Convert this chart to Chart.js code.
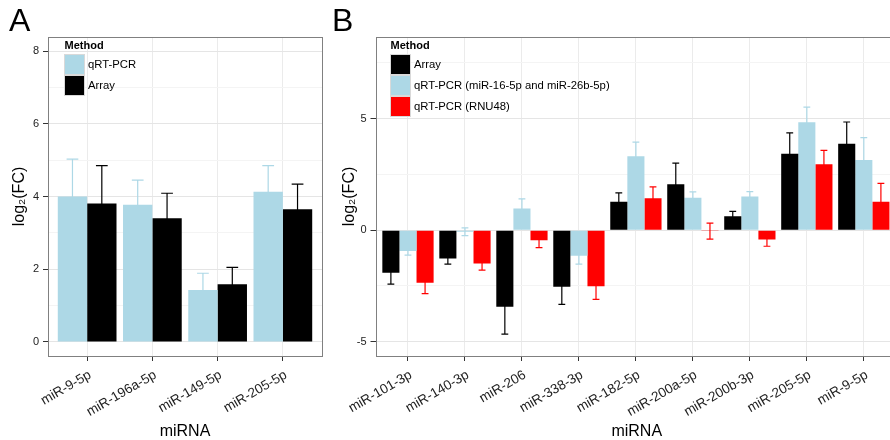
<!DOCTYPE html>
<html lang="en">
<head>
  <meta charset="UTF-8">
  <title>miRNA log2(FC)</title>
  <script src="https://cdn.jsdelivr.net/npm/chart.js"></script>
  <style>
    html, body {
      margin: 0;
      padding: 0;
      width: 890px;
      height: 440px;
      overflow: hidden;
      background: #ffffff;
      font-family: "Liberation Sans", Arial, sans-serif;
    }

    .panel {
      position: absolute;
      top: 0;
      height: 440px;
    }

    .tag {
      position: absolute;
      top: 4px;
      font-size: 32px;
      line-height: 32px;
      color: #000;
    }
  </style>
</head>
<body>
  <div class="panel" style="left:0;width:330px"><canvas id="chartA" width="330" height="440"></canvas></div>
  <div class="panel" style="left:330px;width:580px"><canvas id="chartB" width="580" height="440"></canvas></div>
  <div class="tag" style="left:9px">A</div>
  <div class="tag" style="left:332px">B</div>

  <script>
    // panel A data
    const mirA = ['miR-9-5p', 'miR-196a-5p', 'miR-149-5p', 'miR-205-5p'];
    const qpcrA = [4.00, 3.77, 1.43, 4.13];
    const qpcrErrA = [1.03, 0.68, 0.46, 0.72];
    const arrayA = [3.81, 3.40, 1.59, 3.65];
    const arrayErrA = [1.04, 0.69, 0.46, 0.69];
    const yMajorA = [0, 2, 4, 6, 8];
    const yMinorA = [1, 3, 5, 7];

    // panel B data
    const mirB = ['miR-101-3p', 'miR-140-3p', 'miR-206', 'miR-338-3p', 'miR-182-5p',
                  'miR-200a-5p', 'miR-200b-3p', 'miR-205-5p', 'miR-9-5p'];
    const arrayB = [-1.91, -1.27, -3.43, -2.54, 1.28, 2.06, 0.63, 3.43, 3.88];
    const arrayErrB = [0.51, 0.25, 1.23, 0.79, 0.39, 0.95, 0.21, 0.93, 0.97];
    const qpcrB = [-0.93, -0.07, 0.97, -1.15, 3.31, 1.45, 1.51, 4.84, 3.15];
    const qpcrErrB = [0.19, 0.17, 0.43, 0.37, 0.64, 0.27, 0.22, 0.68, 1.00];
    const rnuB = [-2.36, -1.49, -0.45, -2.51, 1.43, -0.04, -0.42, 2.96, 1.27];
    const rnuErrB = [0.48, 0.30, 0.33, 0.59, 0.51, 0.36, 0.30, 0.62, 0.83];
    const yMajorB = [-5, 0, 5];
    const yMinorB = [-2.5, 2.5, 7.5];

    const FONT = '"Liberation Sans", Arial, Helvetica, sans-serif';
    const LIGHTBLUE = '#ADD8E6';

    // error bars are drawn under the bars, like ggplot does
    const errorBars = {
      id: 'errorBars',
      beforeDatasetsDraw(chart) {
        const ctx = chart.ctx;
        const y = chart.scales.y;
        chart.data.datasets.forEach((ds, i) => {
          const meta = chart.getDatasetMeta(i);
          ctx.save();
          ctx.strokeStyle = ds.backgroundColor;
          ctx.lineWidth = 1.2;
          meta.data.forEach((bar, j) => {
            const v = ds.data[j].y;
            const e = ds.errors[j];
            const top = y.getPixelForValue(v + e);
            const bot = y.getPixelForValue(v - e);
            const cap = bar.width * 0.2;
            ctx.beginPath();
            ctx.moveTo(bar.x, top);
            ctx.lineTo(bar.x, bot);
            ctx.moveTo(bar.x - cap, top);
            ctx.lineTo(bar.x + cap, top);
            ctx.moveTo(bar.x - cap, bot);
            ctx.lineTo(bar.x + cap, bot);
            ctx.stroke();
          });
          ctx.restore();
        });
      }
    };

    // panel border + legend inside the panel
    const frameLegend = {
      id: 'frameLegend',
      afterDatasetsDraw(chart, args, opts) {
        const ctx = chart.ctx;
        const a = chart.chartArea;
        ctx.save();
        ctx.strokeStyle = '#808080';
        ctx.lineWidth = 1;
        ctx.strokeRect(Math.round(a.left) + 0.5, Math.round(a.top) + 0.5,
                       Math.round(a.right - a.left), Math.round(a.bottom - a.top));

        const x = a.left + opts.dx;
        const y0 = a.top + opts.dy;
        ctx.textAlign = 'left';
        ctx.textBaseline = 'middle';
        ctx.fillStyle = '#000';
        ctx.font = 'bold 11px ' + FONT;
        ctx.fillText(opts.title, x + 0.5, y0 + 9);
        chart.data.datasets.forEach((ds, i) => {
          const ky = y0 + 17 + i * 21;
          ctx.fillStyle = ds.backgroundColor;
          ctx.fillRect(x, ky, 21, 21);
          ctx.strokeStyle = '#d9d9d9';
          ctx.strokeRect(x + 0.5, ky + 0.5, 20, 20);
          ctx.fillStyle = '#000';
          ctx.font = '11.3px ' + FONT;
          ctx.fillText(ds.label, x + 24, ky + 11);
        });
        ctx.restore();
      }
    };

    function panelConfig(o) {
      return {
        type: 'bar',
        data: {
          datasets: o.series.map(s => ({
            label: s.label,
            backgroundColor: s.color,
            borderWidth: 0,
            data: s.values.map((v, i) => ({ x: i, y: v })),
            errors: s.errors,
            categoryPercentage: 0.9,
            barPercentage: 1.0
          }))
        },
        options: {
          responsive: false,
          animation: false,
          events: [],
          layout: { padding: { top: 37, right: o.padRight, left: 0, bottom: 0 } },
          plugins: {
            legend: { display: false },
            tooltip: { enabled: false },
            frameLegend: { title: 'Method', dx: o.legendDx, dy: 0 }
          },
          scales: {
            x: {
              type: 'linear',
              min: o.xMin,
              max: o.xMax,
              offset: false,
              afterBuildTicks: s => { s.ticks = o.cats.map((c, i) => ({ value: i })); },
              afterFit: s => { s.height = 84; },
              ticks: {
                autoSkip: false,
                minRotation: 30,
                maxRotation: 30,
                padding: 6,
                labelOffset: 3,
                color: '#222',
                font: { family: FONT, size: 13.5 },
                callback: v => o.cats[v]
              },
              grid: { color: '#ebebeb', tickColor: '#333', tickLength: 5, offset: false },
              border: { display: false },
              title: {
                display: true,
                text: 'miRNA',
                color: '#000',
                font: { family: FONT, size: 16, lineHeight: 1 },
                padding: 0
              }
            },
            y: {
              type: 'linear',
              min: o.yMin,
              max: o.yMax,
              afterBuildTicks: s => {
                s.ticks = [...o.major, ...o.minor].sort((a, b) => a - b).map(v => ({ value: v }));
              },
              afterFit: s => { s.width = o.yWidth; },
              ticks: {
                padding: 4,
                color: '#222',
                font: { family: FONT, size: 11 },
                callback: v => o.major.includes(v) ? String(v) : ''
              },
              grid: {
                color: c => (c.tick && o.major.includes(c.tick.value)) ? '#e5e5e5' : '#f4f4f4',
                tickColor: c => (c.tick && o.major.includes(c.tick.value)) ? '#333' : 'rgba(0,0,0,0)',
                tickLength: 5
              },
              border: { display: false },
              title: {
                display: true,
                text: 'log₂(FC)',
                color: '#000',
                font: { family: FONT, size: 16 },
                padding: { top: 10 }
              }
            }
          }
        },
        plugins: [errorBars, frameLegend]
      };
    }

    new Chart(document.getElementById('chartA'), panelConfig({
      cats: mirA,
      series: [
        { label: 'qRT-PCR', color: LIGHTBLUE, values: qpcrA, errors: qpcrErrA },
        { label: 'Array', color: '#000000', values: arrayA, errors: arrayErrA }
      ],
      xMin: -0.6, xMax: 3.6,
      yMin: -0.385, yMax: 8.385,
      major: yMajorA, minor: yMinorA,
      yWidth: 48, padRight: 8, legendDx: 16
    }));

    new Chart(document.getElementById('chartB'), panelConfig({
      cats: mirB,
      series: [
        { label: 'Array', color: '#000000', values: arrayB, errors: arrayErrB },
        { label: 'qRT-PCR (miR-16-5p and miR-26b-5p)', color: LIGHTBLUE, values: qpcrB, errors: qpcrErrB },
        { label: 'qRT-PCR (RNU48)', color: '#FF0000', values: rnuB, errors: rnuErrB }
      ],
      xMin: -0.57, xMax: 8.6,
      yMin: -5.64, yMax: 8.66,
      major: yMajorB, minor: yMinorB,
      yWidth: 45.5, padRight: 12, legendDx: 14.5
    }));
  </script>
</body>
</html>
